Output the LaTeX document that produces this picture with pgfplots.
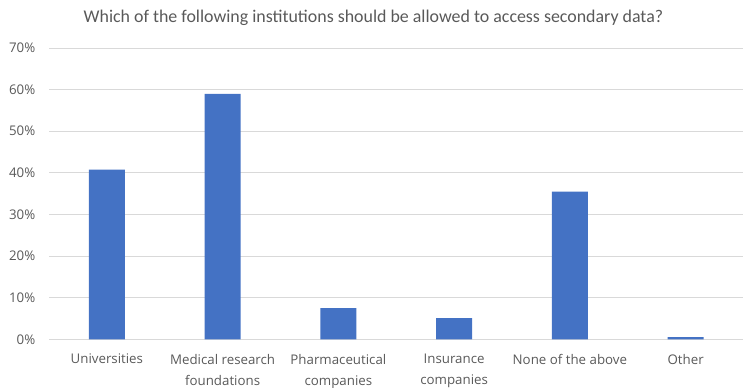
\documentclass[border=0pt]{standalone}
\usepackage{pgfplots}
\pgfplotsset{compat=1.18}
\usepackage{fontspec}
\setmainfont{Carlito}
\newfontfamily\tickfont{Open Sans}
\definecolor{barblue}{HTML}{4472C4}
\definecolor{txtgray}{HTML}{595959}
\definecolor{gridgray}{HTML}{D9D9D9}
\begin{document}
\begin{tikzpicture}[x=1pt,y=1pt]
\path[use as bounding box] (0,0) rectangle (747,388);
\node[text=txtgray,font=\fontsize{17.9}{22}\selectfont] at (373.5,370) {Which of the following institutions should be allowed to access secondary data?};
\begin{axis}[
  at={(49pt,48.7pt)}, anchor=south west,
  scale only axis, width=694.5pt, height=291.3pt,
  xmin=-0.5, xmax=5.5, ymin=0, ymax=70,
  ytick={0,10,...,70},
  yticklabel={\pgfmathprintnumber{\tick}\%},
  /pgf/number format/assume math mode=true,
  xtick=data,
  xticklabels={Universities, Medical research\\foundations, Pharmaceutical\\companies, Insurance\\companies, None of the above, Other},
  axis line style={draw=none},
  axis x line*=bottom,
  x axis line style={draw=gridgray, line width=1pt},
  ymajorgrids, grid style={gridgray, line width=0.9pt},
  major tick length=0pt,
  tick label style={text=txtgray, font=\tickfont\fontsize{13.3}{21}\selectfont},
  yticklabel style={anchor=east, inner sep=0pt, xshift=-13.5pt},
  xticklabel style={anchor=north, align=center, inner sep=0pt, yshift=-14.5pt},
  ybar, bar width=36pt,
  clip=false,
]
\addplot[fill=barblue, draw=none] coordinates {(0,40.8) (1,59.0) (2,7.5) (3,5.1) (4,35.5) (5,0.5)};
\end{axis}
\end{tikzpicture}
\end{document}
